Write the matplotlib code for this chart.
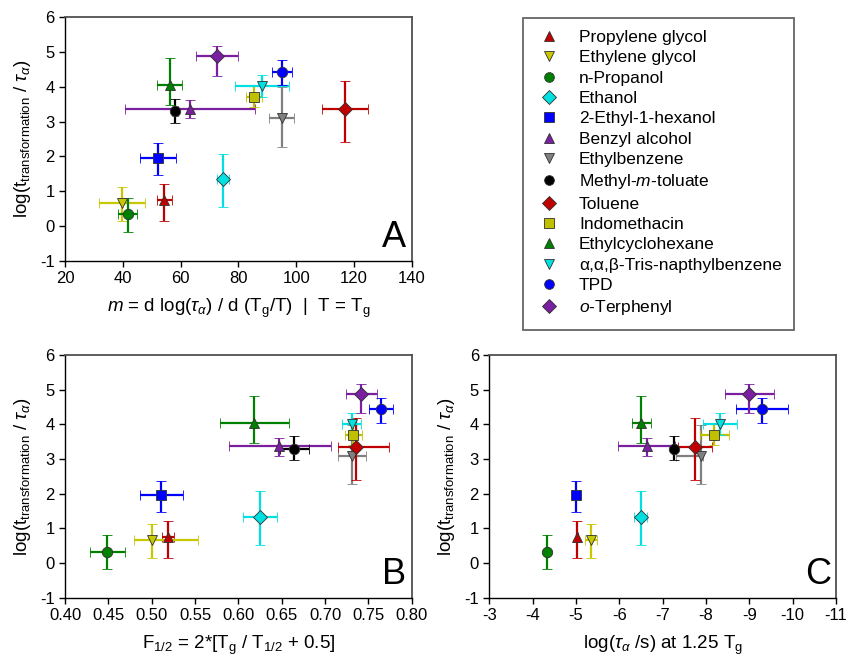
import matplotlib
matplotlib.use('Agg')
import matplotlib.pyplot as plt
from matplotlib.lines import Line2D

plt.rcParams['font.family'] = ['Liberation Sans', 'DejaVu Sans']
plt.rcParams['mathtext.fontset'] = 'custom'
plt.rcParams['mathtext.rm'] = 'Liberation Sans'
plt.rcParams['mathtext.it'] = 'Liberation Sans:italic'
plt.rcParams['mathtext.bf'] = 'Liberation Sans:bold'
plt.rcParams['axes.unicode_minus'] = False

# substances, in legend order
names = ['Propylene glycol', 'Ethylene glycol', 'n-Propanol', 'Ethanol',
         '2-Ethyl-1-hexanol', 'Benzyl alcohol', 'Ethylbenzene',
         r'Methyl-$\mathit{m}$-toluate', 'Toluene', 'Indomethacin',
         'Ethylcyclohexane', 'α,α,β-Tris-napthylbenzene', 'TPD',
         r'$\mathit{o}$-Terphenyl']
markers = ['^', 'v', 'o', 'D', 's', '^', 'v', 'o', 'D', 's', '^', 'v', 'o', 'D']
colors = ['#c00000', '#c8c800', '#008000', '#00e0e0', '#0000ff', '#7a1fa0',
          '#808080', '#000000', '#c00000', '#c0c000', '#008000', '#00e0e0',
          '#0000ff', '#7a1fa0']

# log(t_transformation / tau_alpha), shared by all panels
logt = [0.74, 0.65, 0.33, 1.34, 1.96, 3.37, 3.09, 3.30, 3.36, 3.70, 4.04, 4.02, 4.43, 4.88]
logt_lo = [0.59, 0.50, 0.50, 0.81, 0.50, 0.28, 0.81, 0.33, 0.96, 0.29, 0.57, 0.32, 0.38, 0.56]
logt_hi = [0.48, 0.48, 0.48, 0.73, 0.42, 0.25, 0.90, 0.35, 0.82, 0.35, 0.79, 0.32, 0.34, 0.29]

# panel A: fragility m
m = [54.4, 39.6, 41.7, 74.6, 52.1, 63.3, 95.0, 58.2, 116.9, 85.4, 56.2, 88.1, 95.2, 72.6]
m_err = [2.5, 8.0, 3.2, 2.1, 6.2, 22.5, 4.3, 1.0, 8.0, 2.8, 4.2, 9.3, 3.4, 7.4]

# panel B: F1/2
F = [0.519, 0.500, 0.449, 0.625, 0.511, 0.647, 0.731, 0.664, 0.7355, 0.7325, 0.618, 0.731, 0.765, 0.742]
F_lo = [0.007, 0.020, 0.020, 0.020, 0.024, 0.058, 0.016, 0.016, 0.021, 0.010, 0.039, 0.011, 0.014, 0.018]
F_hi = [0.007, 0.053, 0.020, 0.020, 0.025, 0.060, 0.016, 0.018, 0.038, 0.010, 0.040, 0.011, 0.014, 0.018]

# panel C: log(tau_alpha/s) at 1.25 Tg
tau = [-5.02, -5.35, -4.34, -6.49, -4.99, -6.63, -7.88, -7.26, -7.75, -8.19, -6.51, -8.32, -9.30, -9.00]
tau_lo = [0.03, 0.14, 0.03, 0.14, 0.08, 0.65, 0.05, 0.05, 0.39, 0.33, 0.22, 0.40, 0.60, 0.56]
tau_hi = [0.03, 0.14, 0.03, 0.14, 0.08, 0.65, 0.58, 0.05, 0.39, 0.33, 0.22, 0.40, 0.60, 0.56]

W, H = 846, 660
fig = plt.figure(figsize=(W / 100, H / 100), dpi=100)

def px_axes(x0, y0, x1, y1):
    return fig.add_axes([x0 / W, 1 - y1 / H, (x1 - x0) / W, (y1 - y0) / H])

axA = px_axes(65, 17.3, 411.7, 260.7)
axB = px_axes(65, 355, 411.7, 597.7)
axC = px_axes(489.3, 355, 836, 597.7)

ylab = r'log(t$_{\mathrm{transformation}}$ / $\tau_{\alpha}$)'

def draw(ax, xs, xlo, xhi):
    for i in range(len(names)):
        ax.errorbar([xs[i]], [logt[i]],
                    xerr=[[xlo[i]], [xhi[i]]],
                    yerr=[[logt_lo[i]], [logt_hi[i]]],
                    fmt=markers[i], color=colors[i], ecolor=colors[i],
                    mfc=colors[i], mec='#303030', mew=0.6, ms=7.5,
                    elinewidth=1.6, capsize=3.6, capthick=1.6)
    ax.set_ylim(-1, 6)
    ax.set_yticks(range(-1, 7))
    ax.set_ylabel(ylab, fontsize=13.5, labelpad=5)
    for s in ['left', 'bottom']:
        ax.spines[s].set_color('black')
        ax.spines[s].set_linewidth(1.0)
    for s in ['top', 'right']:
        ax.spines[s].set_color('#505050')
        ax.spines[s].set_linewidth(1.3)
    ax.tick_params(direction='out', length=4, width=1, labelsize=12,
                   top=False, right=False)

draw(axA, m, m_err, m_err)
axA.set_xlim(20, 140)
axA.set_xticks(range(20, 141, 20))
axA.set_xlabel(r'$m$ = d log($\tau_{\alpha}$) / d (T$_{\mathrm{g}}$/T)  |  T = T$_{\mathrm{g}}$',
               fontsize=13.5, labelpad=8)

draw(axB, F, F_lo, F_hi)
axB.set_xlim(0.40, 0.80)
axB.set_xticks([0.40, 0.45, 0.50, 0.55, 0.60, 0.65, 0.70, 0.75, 0.80])
axB.set_xticklabels(['%.2f' % v for v in [0.40, 0.45, 0.50, 0.55, 0.60, 0.65, 0.70, 0.75, 0.80]])
axB.set_xlabel(r'F$_{1/2}$ = 2*[T$_{\mathrm{g}}$ / T$_{1/2}$ + 0.5]', fontsize=13.5, labelpad=8)

draw(axC, tau, tau_lo, tau_hi)
axC.set_xlim(-3, -11)
axC.set_xticks(range(-3, -12, -1))
axC.set_xlabel(r'log($\tau_{\alpha}$ /s) at 1.25 T$_{\mathrm{g}}$', fontsize=13.5, labelpad=8)

for ax, letter in [(axA, 'A'), (axB, 'B'), (axC, 'C')]:
    ax.text(0.985, 0.025, letter, transform=ax.transAxes, ha='right', va='bottom',
            fontsize=26)

handles = [Line2D([], [], linestyle='none', marker=markers[i], color=colors[i],
                  mfc=colors[i], mec='#303030', mew=0.6, ms=7)
           for i in range(len(names))]
leg = fig.legend(handles, names, loc='upper left',
                 bbox_to_anchor=(522.7 / W, 1 - 17.7 / H),
                 borderaxespad=0, fontsize=12.5, frameon=True, fancybox=False,
                 borderpad=0.7, handlelength=1.6, handletextpad=0.95,
                 labelspacing=0.3)
leg.get_frame().set_edgecolor('#404040')
leg.get_frame().set_linewidth(1.3)

plt.savefig('out.png', dpi=100)
